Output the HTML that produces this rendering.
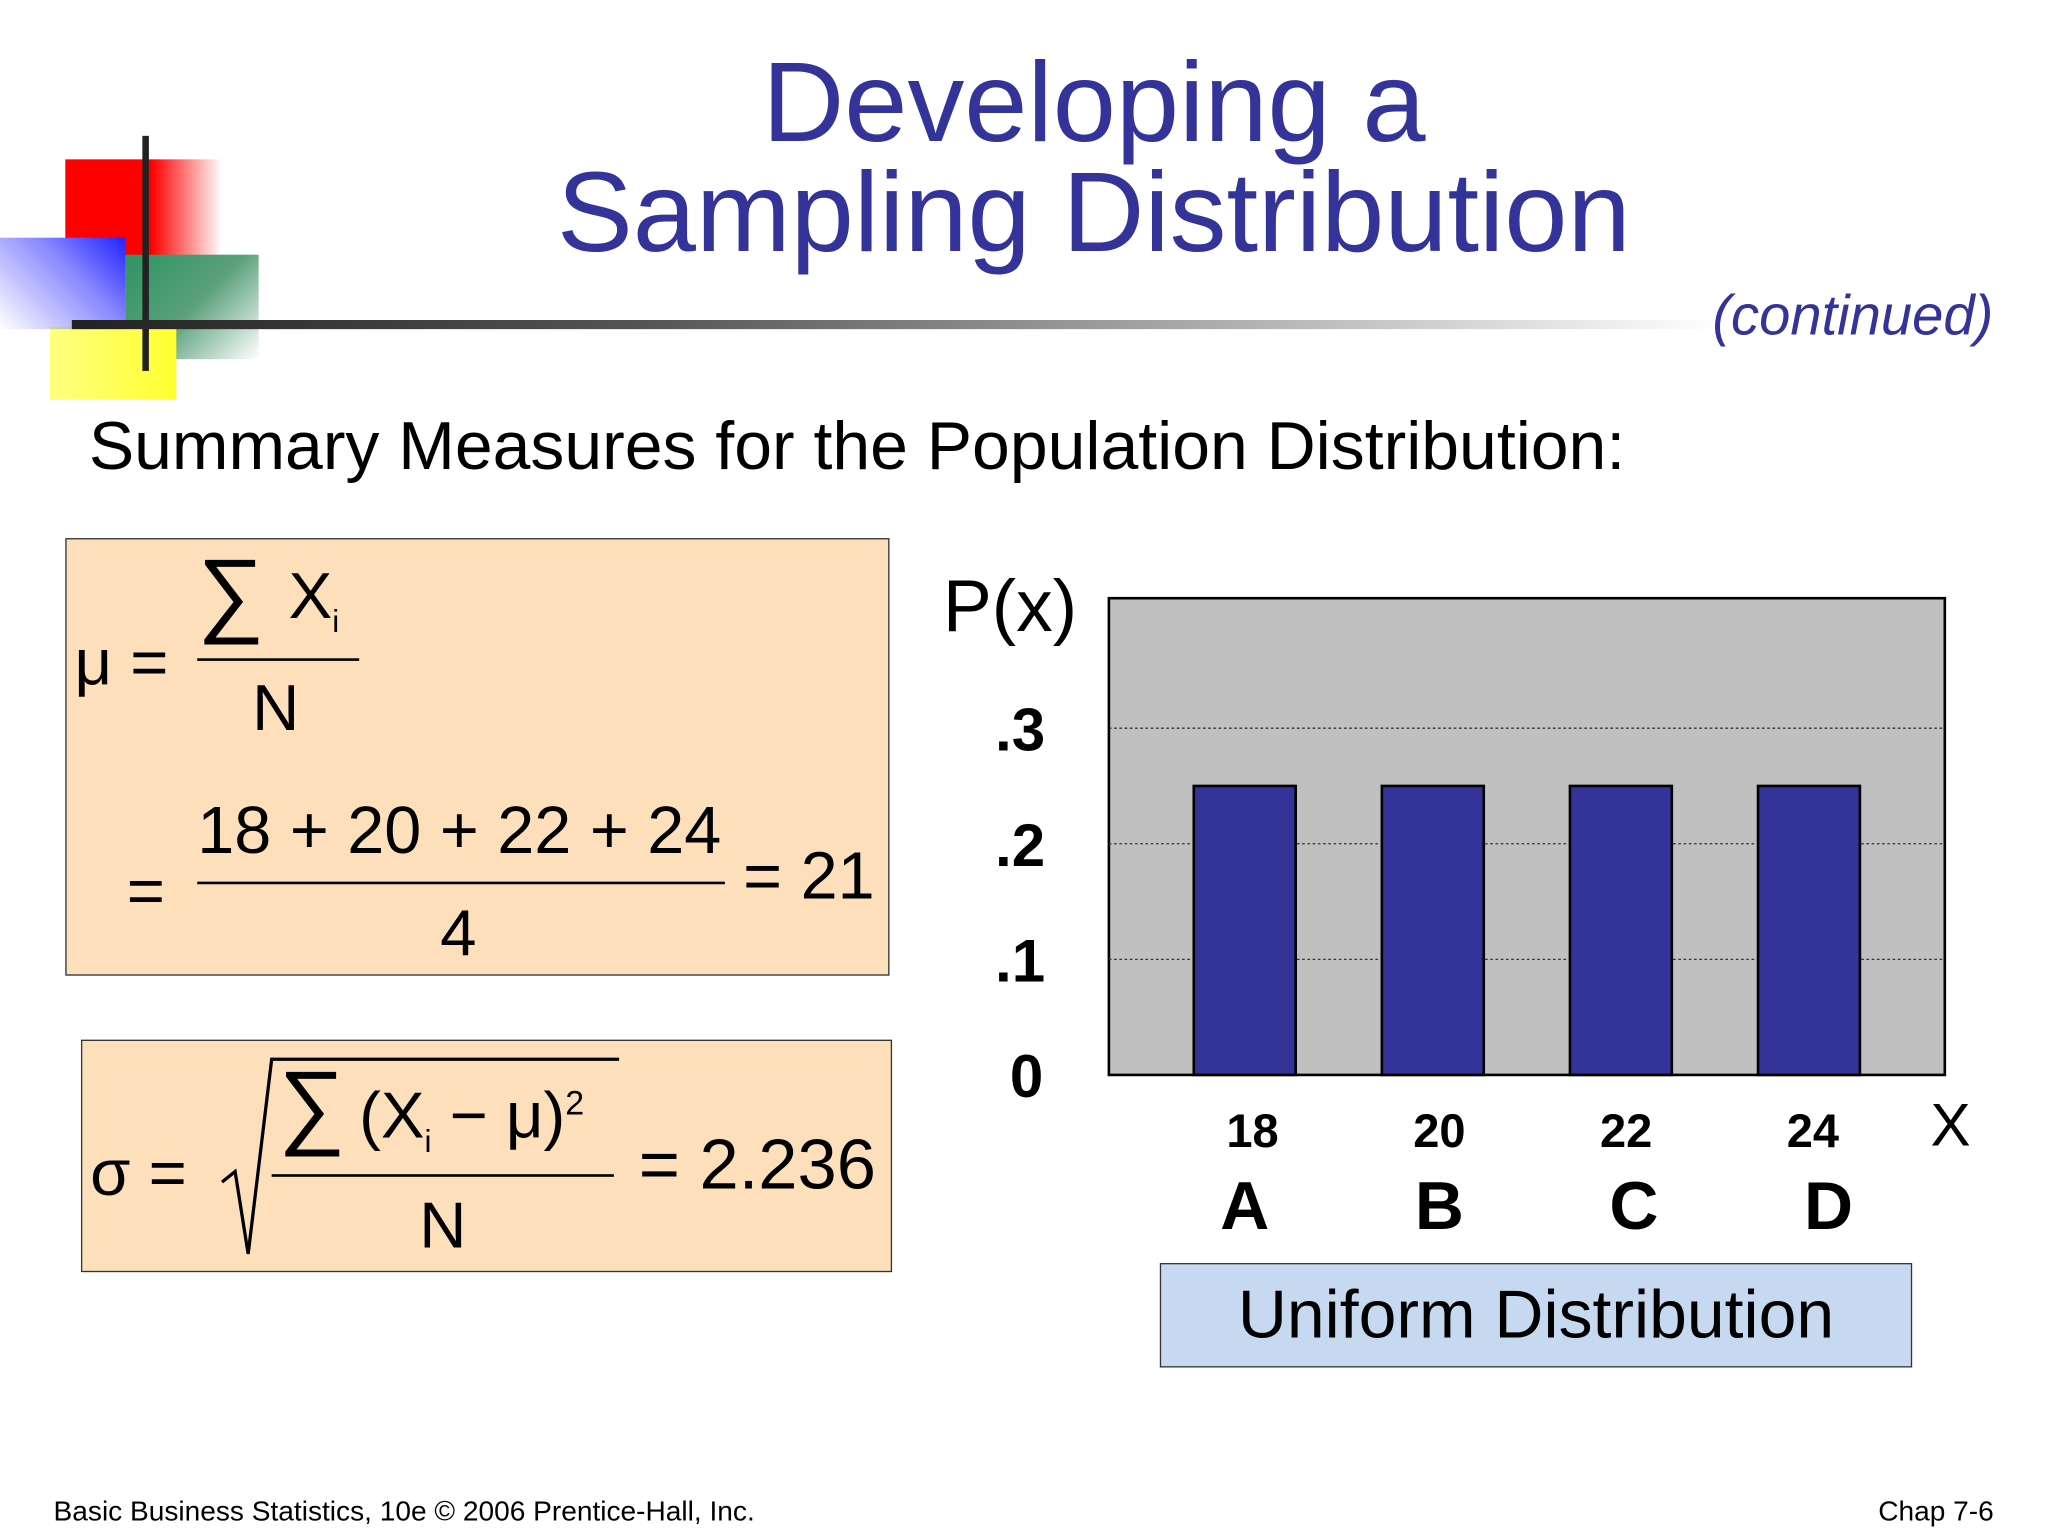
<!DOCTYPE html>
<html><head><meta charset="utf-8"><style>
html,body{margin:0;padding:0;background:#fff;overflow:hidden}
#wrap{position:absolute;left:0;top:0;width:1568px;height:1176px;transform:scale(1.30612);transform-origin:0 0;font-family:"Liberation Sans",sans-serif}
.abs{position:absolute}
</style></head><body>
<div id="wrap">
 <div class="abs" style="left:50px;top:122px;width:120px;height:74px;background:linear-gradient(90deg,#f00 0,#f00 55%,rgba(255,0,0,0) 100%)"></div>
 <div class="abs" style="left:96px;top:195px;width:102px;height:80px;background:linear-gradient(135deg,#2e9464 0,#5aa07a 50%,rgba(255,255,255,0) 100%)"></div>
 <div class="abs" style="left:38px;top:250px;width:97px;height:56px;background:linear-gradient(90deg,#ffff80 0,#ffff30 100%)"></div>
 <div class="abs" style="left:0;top:182px;width:96px;height:70px;background:linear-gradient(45deg,rgba(255,255,255,0) 0,#8888ff 60%,#2222ff 100%)"></div>
 <div class="abs" style="left:109px;top:104px;width:5px;height:180px;background:#222"></div>
 <div class="abs" style="left:55px;top:245px;width:1260px;height:7px;background:linear-gradient(90deg,#222 0,#555 35%,#bbb 75%,#fff 100%)"></div>
 <div class="abs" style="left:300px;top:37px;width:1075px;text-align:center;color:#333399;font-size:87px;line-height:84px">Developing a<br>Sampling Distribution</div>
 <div class="abs" style="left:1311px;top:218px;color:#333399;font-size:43px;font-style:italic">(continued)</div>
 <div class="abs" style="left:68px;top:312px;font-size:52px;color:#000">Summary Measures for the Population Distribution:</div>

 <div class="abs" style="left:50px;top:412px;width:631px;height:335px;background:#fde0bb;border:1.5px solid #333;box-sizing:border-box;font-size:50px;color:#000">
  <span class="abs" style="left:6px;top:65px">μ =</span>
  <span class="abs" style="left:100px;top:0px;font-size:72px">∑</span>
  <span class="abs" style="left:170px;top:14px">X<sub style="font-size:24px">i</sub></span>
  <div class="abs" style="left:100px;top:91px;width:124px;height:2px;background:#000"></div>
  <span class="abs" style="left:142px;top:100px">N</span>
  <span class="abs" style="left:46px;top:240px">=</span>
  <span class="abs" style="left:100px;top:193px;font-size:51px">18 + 20 + 22 + 24</span>
  <div class="abs" style="left:100px;top:262px;width:404px;height:2px;background:#000"></div>
  <span class="abs" style="left:286px;top:272px">4</span>
  <span class="abs" style="left:518px;top:228px;font-size:51px">= 21</span>
 </div>

 <div class="abs" style="left:62px;top:796px;width:621px;height:178px;background:#fde0bb;border:1.5px solid #333;box-sizing:border-box;font-size:50px;color:#000">
  <span class="abs" style="left:6px;top:72px">σ =</span>
  <svg class="abs" style="left:105px;top:8px" width="310" height="160"><polyline points="2,100 12,92 22,155 40,6 306,6" fill="none" stroke="#000" stroke-width="2.5"/></svg>
  <span class="abs" style="left:150px;top:8px;font-size:72px">∑</span>
  <span class="abs" style="left:212px;top:28px">(X<sub style="font-size:24px">i</sub> − μ)<sup style="font-size:26px">2</sup></span>
  <div class="abs" style="left:145px;top:102px;width:262px;height:2px;background:#000"></div>
  <span class="abs" style="left:258px;top:112px">N</span>
  <span class="abs" style="left:426px;top:64px;font-size:54px">= 2.236</span>
 </div>

 <svg class="abs" style="left:0;top:0" width="1568" height="1176" id="chart"></svg>

 <div class="abs" style="left:888px;top:967px;width:576px;height:80px;background:#c6d9f1;border:1.5px solid #333;box-sizing:border-box;font-size:52px;text-align:center;line-height:78px">Uniform Distribution</div>
 <div class="abs" style="left:41px;top:1145px;font-size:21.5px">Basic Business Statistics, 10e © 2006 Prentice-Hall, Inc.</div>
 <div class="abs" style="left:1438px;top:1145px;font-size:21.5px">Chap 7-6</div>
</div>
<script>
const categories=["18","20","22","24"];
const letters=["A","B","C","D"];
const probs=[0.25,0.25,0.25,0.25];
const yTicks=[0,0.1,0.2,0.3];
const yTickLabels=["0",".1",".2",".3"];
const NS="http://www.w3.org/2000/svg";
const svg=document.getElementById('chart');
const L=849,R=1489,T=458,B=823;
const y=v=>B-v*885;
const xc=i=>953+i*144;
function mk(t,a){const e=document.createElementNS(NS,t);for(const k in a)e.setAttribute(k,a[k]);svg.appendChild(e);return e;}
let bg=mk('rect',{x:L,y:T,width:R-L,height:B-T,fill:'#c0c0c0',stroke:'#000','stroke-width':2});


yTicks.forEach((v,i)=>{
 if(v>0){let g=mk('line',{x1:L,x2:R,y1:y(v),y2:y(v),stroke:'#333','stroke-width':1,'stroke-dasharray':'2,2'});
 
 }
 let t=mk('text',{x:i==0?786:781,y:y(v)+17,'text-anchor':'middle','font-size':46,'font-weight':'bold','font-family':'Liberation Sans'});
 t.textContent=yTickLabels[i];
 
 
});
probs.forEach((p,i)=>{
 let r=mk('rect',{x:xc(i)-39,y:y(p),width:78,height:B-y(p),fill:'#333399',stroke:'#000','stroke-width':2});
 
 
 let t=mk('text',{x:xc(i)+6-i,y:878,'text-anchor':'middle','font-size':36,'font-weight':'bold','font-family':'Liberation Sans'});
 t.textContent=categories[i];
 
 
 let l=mk('text',{x:xc(i)+i*5,y:941,'text-anchor':'middle','font-size':52,'font-weight':'bold','font-family':'Liberation Sans'});
 l.textContent=letters[i];
 
 
});
let yl=mk('text',{x:722,y:483,'font-size':56,'font-family':'Liberation Sans'});yl.textContent='P(x)';


let xl=mk('text',{x:1478,y:877,'font-size':46,'font-family':'Liberation Sans'});xl.textContent='X';


</script>
</body></html>
